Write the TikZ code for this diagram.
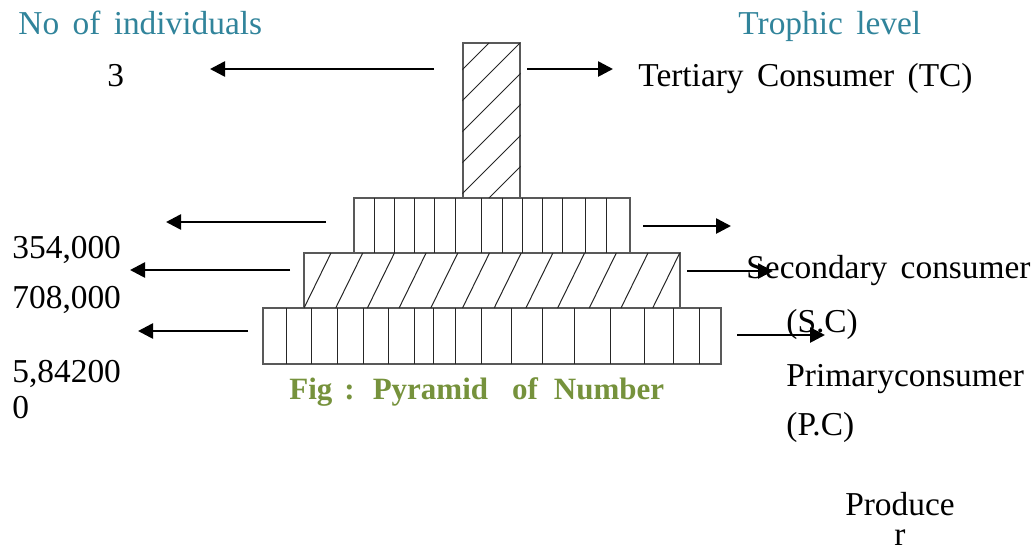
\documentclass[tikz,border=0pt]{standalone}
\usepackage{fontspec}
\setmainfont{Liberation Serif}[WordSpace=1.6]
\usetikzlibrary{arrows.meta}
\definecolor{headteal}{HTML}{31849B}
\definecolor{figolive}{HTML}{76923C}

\begin{document}
\begin{tikzpicture}[x=0.5pt, y=-0.5pt,
    every node/.style={font=\fontsize{16.7}{20}\selectfont},
    lbl/.style={anchor=base west, inner sep=0pt},
    head/.style={lbl, text=headteal},
    level/.style={rectangle, draw=black!65, line width=0.6pt, inner sep=0pt},
    stripe/.style={line width=0.5pt, black!85},
    arr/.style={-{Triangle[length=7.5pt, width=7.5pt]}, line width=1.3pt}
]
\useasboundingbox (0,0) rectangle (1034,554);

% headings
\node[head] (hnum)  at (18,34)  {No of individuals};
\node[head] (htro)  at (738,34) {Trophic level};

% pyramid levels
\node[level, minimum width=229pt, minimum height=28pt]   (pd) at (492,336)   {};
\node[level, minimum width=188pt, minimum height=27.5pt] (pc) at (492,280.5) {};
\node[level, minimum width=138pt, minimum height=27.5pt] (sc) at (492,225.5) {};
\node[level, minimum width=28.5pt, minimum height=77.5pt] (tc) at (491.5,120.5) {};

% striped levels
\foreach \x in {286,311,337,363,388,414,433,455,481,511,542,574,610,644,673,699}
    \draw[stripe] (\x,308) -- (\x,364);
\foreach \x in {374,394,414,434,455,481,502,522,542,562,585,606}
    \draw[stripe] (\x,198) -- (\x,253);

% hatched levels
\begin{scope}
    \clip (pc.south west) rectangle (pc.north east);
    \foreach \k in {-1,...,12}
        \draw[stripe] ({304+31.7*\k},308) -- ({331+31.7*\k},253);
\end{scope}
\begin{scope}
    \clip (tc.south west) rectangle (tc.north east);
    \foreach \k in {0,...,5}
        \draw[stripe] ({532+31*\k-198},198) -- ({532+31*\k-43},43);
\end{scope}

% arrows
\foreach \n/\xa/\xb/\y in {tl/434/210/69, tr/527/613/69,
                           sl/326/166/222, sr/643/731/226,
                           pl/290/130/270, pr/687/773/271,
                           dl/248/138/331, dr/737/825/335}{
    \coordinate (\n s) at (\xa,\y);
    \coordinate (\n e) at (\xb,\y);
    \draw[arr] (\n s) -- (\n e);
}

% numbers
\node[lbl] (n3)   at (107,86) {3};
\node[lbl] (n354) at (12,258) {354,000};
\node[lbl] (n708) at (12,308) {708,000};
\node[lbl] (n584) at (12,382) {5,84200};
\node[lbl] (n0)   at (12,418) {0};

% trophic levels
\node[lbl] (ttc)   at (638,86)  {Tertiary Consumer (TC)};
\node[lbl] (tsc)   at (746,278) {Secondary consumer};
\node[lbl] (tscab) at (786,332) {(S.C)};
\node[lbl] (tpc)   at (786,386) {Primaryconsumer};
\node[lbl] (tpcab) at (786,435) {(P.C)};
\node[inner sep=0pt, align=center, anchor=north] (tpd) at (900,492)
    {Produce\\[-5pt]r};

% caption
\node[lbl, font=\fontsize{15.5}{18}\selectfont\bfseries, text=figolive] (cap) at (289,399)
    {Fig\hspace{6pt}:\hspace{9pt}Pyramid\hspace{12pt}of\hspace{8pt}Number};
\end{tikzpicture}
\end{document}
